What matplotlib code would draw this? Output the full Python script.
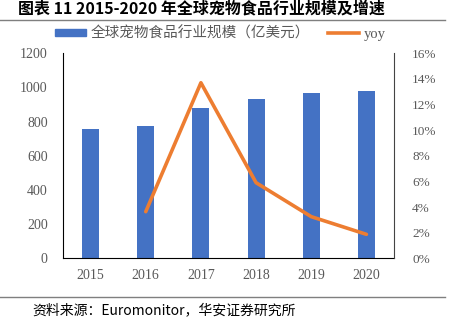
import matplotlib
matplotlib.use("Agg")
import matplotlib.pyplot as plt
from matplotlib.lines import Line2D
from matplotlib.patches import Patch
from matplotlib.ticker import FuncFormatter

years = ["2015", "2016", "2017", "2018", "2019", "2020"]
market_size = [757, 776, 882, 934, 966, 981]
yoy_years = ["2016", "2017", "2018", "2019", "2020"]
yoy = [3.64, 13.7, 5.9, 3.25, 1.87]
left_ticks = [0, 200, 400, 600, 800, 1000, 1200]
right_ticks = [0, 2, 4, 6, 8, 10, 12, 14, 16]

title = "图表 11 2015-2020 年全球宠物食品行业规模及增速"
bar_label = "全球宠物食品行业规模（亿美元）"
line_label = "yoy"
source = "资料来源：Euromonitor，华安证券研究所"

cjk = ["Noto Sans CJK SC", "DejaVu Sans"]
serif = ["Liberation Serif", "DejaVu Serif"]
gray = "#595959"
blue = "#4472C4"
orange = "#ED7D31"

W, H = 452, 331
fig = plt.figure(figsize=(W / 100, H / 100), dpi=100)

ax = fig.add_axes([63 / W, 1 - 258.3 / H, (394 - 63) / W, (258.3 - 53.3) / H])
x = list(range(len(years)))
ax.bar(x, market_size, width=0.31, color=blue, zorder=2)
ax.set_xlim(-0.5, len(years) - 0.5)
ax.set_ylim(0, 1200)
ax.set_yticks(left_ticks)
ax.set_xticks(x)
ax.set_xticklabels(years)
ax.tick_params(length=0, labelsize=10, colors=gray)
ax.tick_params(axis="x", pad=8)
ax.tick_params(axis="y", pad=11)
for lab in ax.get_xticklabels() + ax.get_yticklabels():
    lab.set_family(serif)
ax.spines["top"].set_visible(False)
ax.spines["right"].set_visible(False)
ax.spines["left"].set_color("black")
ax.spines["bottom"].set_color("black")

ax2 = ax.twinx()
xi = [years.index(y) for y in yoy_years]
ax2.plot(xi, yoy, color=orange, lw=2.6, zorder=3, solid_capstyle="round")
ax2.set_ylim(0, 16)
ax2.set_yticks(right_ticks)
ax2.yaxis.set_major_formatter(FuncFormatter(lambda v, p: f"{int(v)}%"))
ax2.tick_params(length=0, labelsize=9.5, colors=gray, pad=13)
for lab in ax2.get_yticklabels():
    lab.set_family(serif)
ax2.spines["top"].set_visible(False)
ax2.spines["left"].set_visible(False)
ax2.spines["bottom"].set_visible(False)
ax2.spines["right"].set_color("#444444")

handles = [Patch(color=blue, label=bar_label),
           Line2D([0], [0], color=orange, lw=2.6, label=line_label)]
leg = fig.legend(handles=handles, loc="center left", bbox_to_anchor=(55 / W, 1 - 33.5 / H),
                 ncol=2, frameon=False, prop={"family": cjk, "size": 10.5},
                 handlelength=2.15, handleheight=0.43, columnspacing=1.25,
                 handletextpad=0.28, borderpad=0, borderaxespad=0)
for t in leg.get_texts():
    t.set_color(gray)
leg.get_texts()[1].set_family(serif)
leg.get_texts()[1].set_fontsize(10.5)

fig.text(18 / W, 1 - 8.5 / H, title, ha="left", va="center", fontsize=11.5,
         fontweight="bold", family=cjk, color="black")
fig.add_artist(Line2D([0, 445 / W], [1 - 19.5 / H] * 2, color="#7f7f7f", lw=1))
fig.add_artist(Line2D([0, 445 / W], [1 - 297 / H] * 2, color="#7f7f7f", lw=1))
fig.text(32 / W, 1 - 310 / H, source, ha="left", va="center", fontsize=10,
         family=cjk, color="black")

fig.savefig("out.png", dpi=100)
